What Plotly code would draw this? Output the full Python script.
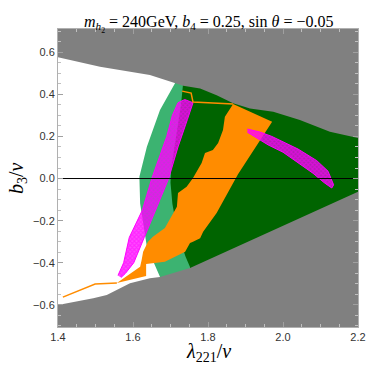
import plotly.graph_objects as go

# region boundaries (lambda221/v, b3/v)
gray_top_x = [1.400, 1.512, 1.645, 1.712, 1.734, 1.779, 1.823, 1.867, 1.912, 1.974, 2.045, 2.125, 2.200]
gray_top_y = [0.576, 0.531, 0.491, 0.455, 0.440, 0.428, 0.396, 0.357, 0.333, 0.317, 0.278, 0.222, 0.192]

gray_bot_x = [1.400, 1.494, 1.530, 1.592, 1.645, 1.672, 1.752, 2.200]
gray_bot_y = [-0.601, -0.569, -0.553, -0.497, -0.474, -0.468, -0.425, -0.063]

light_left_x = [1.712, 1.672, 1.637, 1.617, 1.619, 1.637, 1.659, 1.675]
light_left_y = [0.452, 0.325, 0.151, 0.009, -0.118, -0.324, -0.410, -0.480]

dark_left_x = [1.733, 1.728, 1.720, 1.710, 1.702, 1.700, 1.705, 1.715, 1.727, 1.740, 1.752]
dark_left_y = [0.440, 0.350, 0.250, 0.150, 0.050, -0.020, -0.120, -0.220, -0.300, -0.370, -0.420]

orange_x = [1.867, 1.971, 1.880, 1.850, 1.823, 1.787, 1.779, 1.760, 1.752, 1.739, 1.685,
            1.635, 1.635, 1.557, 1.597, 1.619, 1.623, 1.627, 1.640, 1.653, 1.685, 1.707,
            1.717, 1.720, 1.743, 1.760, 1.783, 1.792, 1.813, 1.827, 1.840, 1.845]
orange_y = [0.354, 0.270, 0.020, -0.078, -0.164, -0.253, -0.283, -0.300, -0.306, -0.348, -0.395,
            -0.406, -0.463, -0.496, -0.449, -0.419, -0.387, -0.348, -0.300, -0.276, -0.235, -0.164,
            -0.134, -0.069, -0.039, 0.002, 0.074, 0.121, 0.135, 0.169, 0.230, 0.293]

orange_top_x = [1.731, 1.755, 1.760, 1.867]
orange_top_y = [0.415, 0.406, 0.363, 0.354]
orange_bot_x = [1.557, 1.499, 1.413]
orange_bot_y = [-0.496, -0.501, -0.563]

band1_x = [1.560, 1.575, 1.590, 1.625, 1.650, 1.670, 1.690, 1.705, 1.720, 1.738,
           1.760, 1.745, 1.720, 1.695, 1.668, 1.630, 1.602, 1.580, 1.568]
band1_y = [-0.460, -0.400, -0.280, -0.150, 0.000, 0.100, 0.200, 0.300, 0.360, 0.375,
           0.360, 0.280, 0.150, 0.000, -0.120, -0.280, -0.400, -0.450, -0.470]

band2_x = [1.905, 1.940, 1.970, 2.000, 2.040, 2.090, 2.120, 2.135,
           2.130, 2.110, 2.080, 2.040, 2.000, 1.960, 1.925, 1.905]
band2_y = [0.235, 0.220, 0.200, 0.175, 0.140, 0.085, 0.035, -0.030,
           -0.045, -0.020, 0.025, 0.075, 0.125, 0.160, 0.200, 0.220]

Y_TOP, Y_BOT = 0.71, -0.705

fig = go.Figure()


def region(xs, ys, color, **kw):
    fig.add_trace(go.Scatter(x=xs, y=ys, mode="lines", fill="toself", fillcolor=color,
                             line=dict(width=0, color=color), hoverinfo="skip",
                             showlegend=False, **kw))


# light green band: everything right of its left edge
region([light_left_x[0]] + light_left_x + [light_left_x[-1], 2.2, 2.2],
       [Y_TOP] + light_left_y + [Y_BOT, Y_BOT, Y_TOP], "#3cb371")
# dark green: everything right of its left edge
region([dark_left_x[0]] + dark_left_x + [dark_left_x[-1], 2.2, 2.2],
       [Y_TOP] + dark_left_y + [Y_BOT, Y_BOT, Y_TOP], "#006400")
region(orange_x, orange_y, "#ff8c00")

# excluded regions
region(gray_top_x + [2.2, 1.4], gray_top_y + [Y_TOP, Y_TOP], "#808080")
region(gray_bot_x + [2.2, 1.4], gray_bot_y + [Y_BOT, Y_BOT], "#808080")

# magenta scatter bands
for bx, by in [(band1_x, band1_y), (band2_x, band2_y)]:
    fig.add_trace(go.Scatter(x=bx, y=by, mode="lines", fill="toself",
                             fillcolor="rgba(255,0,255,0.7)",
                             fillpattern=dict(shape="x", fgcolor="#ff00ff", size=3,
                                              solidity=0.6, fillmode="overlay"),
                             line=dict(width=1, color="#ff00ff"),
                             hoverinfo="skip", showlegend=False))

for lx, ly in [(orange_top_x, orange_top_y), (orange_bot_x, orange_bot_y)]:
    fig.add_trace(go.Scatter(x=lx, y=ly, mode="lines", line=dict(width=1.5, color="#ff8c00"),
                             hoverinfo="skip", showlegend=False))

# b3 = 0 line
fig.add_trace(go.Scatter(x=[1.4, 2.2], y=[0, 0], mode="lines",
                         line=dict(width=1, color="black"), hoverinfo="skip", showlegend=False))

axis_common = dict(showgrid=False, zeroline=False, showline=True, linecolor="#b0b0b0",
                   linewidth=1, mirror="ticks", ticks="inside", ticklen=5, tickcolor="#a0a0a0",
                   tickformat=".1f", automargin=False,
                   tickfont=dict(family="Liberation Sans", size=11, color="#333"),
                   minor=dict(dtick=0.05, ticks="inside", ticklen=3, tickcolor="#c0c0c0"))

fig.update_layout(
    width=366, height=377,
    margin=dict(l=58, r=8, t=29, b=50),
    plot_bgcolor="white", paper_bgcolor="white",
    xaxis=dict(range=[1.4, 2.2], dtick=0.2, tick0=1.4, **axis_common),
    yaxis=dict(range=[Y_BOT, Y_TOP], dtick=0.2, tick0=0, **axis_common),
    annotations=[
        dict(text="<i>m</i><sub><i>h</i><sub>2</sub></sub> = 240GeV, <i>b</i><sub>4</sub> = 0.25, "
                  "sin <i>θ</i> = −0.05",
             xref="paper", yref="paper", x=0.5, y=1.06, showarrow=False,
             font=dict(family="Liberation Serif", size=16, color="black")),
        dict(text="<i>λ</i><sub>221</sub>/<i>v</i>", xref="paper", yref="paper",
             x=0.5, y=-0.135, showarrow=False,
             font=dict(family="Liberation Serif", size=20, color="black")),
        dict(text="<i>b</i><sub>3</sub>/<i>v</i>", xref="paper", yref="paper",
             x=-0.185, y=0.5, textangle=-90, showarrow=False,
             font=dict(family="Liberation Serif", size=20, color="black")),
    ],
)

fig.write_html("out.html", config={"displayModeBar": False},
               post_script="document.body.style.margin='0';")
